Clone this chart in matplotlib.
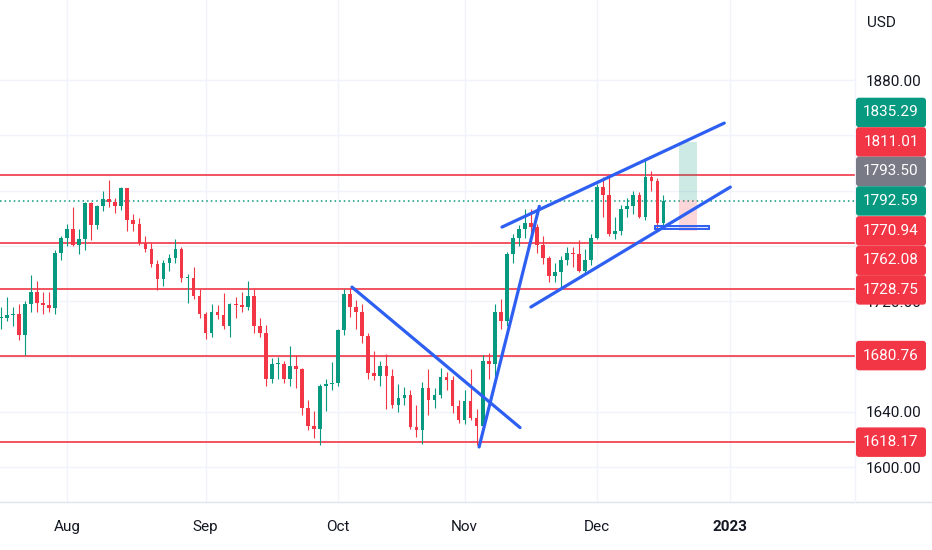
import numpy as np
import pandas as pd
import matplotlib
matplotlib.use("Agg")
import matplotlib.pyplot as plt
from matplotlib.patches import Rectangle, FancyBboxPatch
from matplotlib.transforms import IdentityTransform

plt.rcParams['font.family'] = ['Roboto', 'DejaVu Sans']

# daily bars, XAUUSD, 15 Jul 2022 .. 16 Dec 2022
dates = pd.bdate_range("2022-07-15", "2022-12-16")
opens = [1708, 1708, 1710, 1711, 1696, 1718, 1727, 1719, 1717, 1715,
         1755, 1766, 1772, 1761, 1765, 1791, 1775, 1789, 1794, 1792,
         1789, 1802, 1779, 1776, 1762, 1758, 1747, 1736, 1748, 1751,
         1758, 1737, 1737, 1724, 1711, 1697, 1712, 1710, 1702, 1718,
         1717, 1716, 1724, 1702, 1697, 1664, 1675, 1675, 1664, 1673,
         1671, 1643, 1630, 1628, 1659, 1660, 1661, 1699, 1725, 1716,
         1712, 1695, 1668, 1666, 1673, 1666, 1645, 1650, 1652, 1629,
         1627, 1657, 1649, 1652, 1665, 1663, 1644, 1634, 1648, 1636,
         1630, 1677, 1675, 1712, 1706, 1754, 1766, 1772, 1777, 1774,
         1761, 1751, 1738, 1741, 1750, 1755, 1754, 1742, 1750, 1766,
         1803, 1797, 1769, 1771, 1787, 1789, 1797, 1781, 1810, 1807,
         1777]
highs = [1716, 1723, 1716, 1718, 1720, 1739, 1735, 1727, 1727, 1757,
         1767, 1776, 1788, 1772, 1792, 1792, 1790, 1800, 1808, 1795,
         1803, 1802, 1783, 1780, 1767, 1762, 1750, 1750, 1754, 1765,
         1759, 1740, 1745, 1729, 1712, 1718, 1717, 1726, 1719, 1723,
         1727, 1735, 1729, 1708, 1703, 1679, 1680, 1677, 1688, 1681,
         1672, 1649, 1641, 1660, 1664, 1676, 1700, 1729, 1730, 1721,
         1718, 1697, 1684, 1677, 1682, 1671, 1660, 1658, 1656, 1645,
         1662, 1671, 1657, 1672, 1669, 1666, 1649, 1656, 1671, 1642,
         1681, 1683, 1718, 1722, 1756, 1769, 1775, 1787, 1787, 1776,
         1767, 1753, 1748, 1753, 1759, 1759, 1764, 1758, 1769, 1805,
         1810, 1810, 1781, 1790, 1795, 1800, 1799, 1824, 1814, 1809,
         1797]
lows = [1700, 1706, 1702, 1692, 1681, 1712, 1712, 1711, 1712, 1711,
        1750, 1760, 1760, 1754, 1757, 1764, 1772, 1785, 1788, 1784,
        1786, 1771, 1771, 1761, 1756, 1745, 1728, 1731, 1742, 1748,
        1734, 1719, 1722, 1708, 1693, 1694, 1707, 1700, 1694, 1708,
        1712, 1714, 1697, 1694, 1659, 1661, 1664, 1661, 1659, 1657,
        1638, 1627, 1621, 1616, 1641, 1656, 1659, 1696, 1709, 1700,
        1690, 1664, 1663, 1659, 1642, 1643, 1640, 1645, 1628, 1622,
        1617, 1638, 1643, 1650, 1656, 1639, 1632, 1631, 1634, 1616,
        1628, 1664, 1666, 1700, 1702, 1748, 1760, 1766, 1768, 1755,
        1747, 1734, 1734, 1730, 1746, 1745, 1741, 1740, 1746, 1765,
        1781, 1767, 1765, 1768, 1781, 1783, 1780, 1779, 1800, 1773,
        1774]
closes = [1708, 1710, 1711, 1696, 1718, 1727, 1719, 1717, 1715, 1755,
          1766, 1772, 1761, 1765, 1791, 1775, 1789, 1794, 1792, 1789,
          1802, 1779, 1776, 1762, 1758, 1747, 1736, 1748, 1751, 1758,
          1737, 1737, 1724, 1711, 1697, 1712, 1710, 1702, 1718, 1717,
          1716, 1724, 1702, 1697, 1664, 1675, 1675, 1664, 1673, 1671,
          1643, 1630, 1628, 1659, 1660, 1661, 1699, 1725, 1716, 1712,
          1695, 1668, 1666, 1673, 1666, 1645, 1650, 1652, 1629, 1627,
          1657, 1649, 1652, 1665, 1663, 1644, 1634, 1648, 1636, 1630,
          1677, 1675, 1712, 1706, 1754, 1766, 1772, 1777, 1774, 1761,
          1751, 1738, 1741, 1750, 1755, 1754, 1742, 1750, 1766, 1803,
          1797, 1769, 1771, 1787, 1789, 1797, 1781, 1810, 1807, 1777,
          1792.59]

# horizontal levels (red), position tool, current price
levels = [1811.01, 1762.08, 1728.75, 1680.76, 1618.17]
target, entry, stop = 1835.29, 1793.50, 1770.94
last_price = 1792.59

# trend lines: (bar index, price) pairs
trendlines = [[(58.3, 1730.3), (86.2, 1628.7)],
              [(79.4, 1614.7), (89.4, 1788.7)],
              [(83.2, 1773.7), (120.1, 1848.9)],
              [(88.0, 1715.9), (121.1, 1802.6)]]
box_bars = (108.6, 117.6)
box_prices = (1772.0, 1774.5)
pos_bars = (112.6, 115.6)

UP, DOWN, GRAY = '#089981', '#f23645', '#787b86'
BLUE = '#2d5ff2'
GRID = '#f0f3fa'
TXT = '#131722'

W, H = 932, 550
fig = plt.figure(figsize=(W / 100, H / 100), dpi=100, facecolor='white')
ax = fig.add_axes([0, 1 - 502 / H, 855 / W, 502 / H])
ax.set_facecolor('white')

o = np.array(opens, float); h = np.array(highs, float)
l = np.array(lows, float); c = np.array(closes, float)
idx = np.arange(len(dates))
cols = np.where(c >= o, UP, DOWN)

ax.vlines(idx, l, h, colors=cols, lw=0.8, zorder=3)
body = np.maximum(np.abs(c - o), 0.6)
ax.bar(idx, body, bottom=np.minimum(o, c), width=0.6, color=cols, lw=0, zorder=3)

ax.set_xlim(-0.125, 141.8)
ax.set_ylim(1574.9, 1937.9)

for lv in levels:
    ax.axhline(lv, color=DOWN, lw=1.2, zorder=2)
ax.axhline(last_price, color=UP, lw=1.1, ls=(0, (1, 2)), zorder=2)

for (x1, y1), (x2, y2) in trendlines:
    ax.plot([x1, x2], [y1, y2], color=BLUE, lw=2.3, solid_capstyle='round', zorder=5)

ax.add_patch(Rectangle((pos_bars[0], entry), pos_bars[1] - pos_bars[0], target - entry,
                       facecolor=UP, alpha=0.2, lw=0, zorder=4))
ax.add_patch(Rectangle((pos_bars[0], stop), pos_bars[1] - pos_bars[0], entry - stop,
                       facecolor=DOWN, alpha=0.2, lw=0, zorder=4))
ax.add_patch(Rectangle((box_bars[0], box_prices[0]), box_bars[1] - box_bars[0],
                       box_prices[1] - box_prices[0], facecolor=BLUE, alpha=0.15,
                       edgecolor='none', zorder=4))
ax.add_patch(Rectangle((box_bars[0], box_prices[0]), box_bars[1] - box_bars[0],
                       box_prices[1] - box_prices[0], fill=False, edgecolor=BLUE,
                       lw=1.4, zorder=4))

# month ticks
future = pd.bdate_range("2022-07-15", "2023-02-28")
month_idx, month_lab = [], []
for k, d in enumerate(future):
    if k == 0 or d.month != future[k - 1].month:
        if d >= pd.Timestamp("2022-08-01") and d <= pd.Timestamp("2023-01-31"):
            month_idx.append(k)
            month_lab.append(str(d.year) if d.month == 1 else d.strftime("%b"))
ax.set_xticks(month_idx)
ax.set_xticklabels(month_lab, fontsize=11, color=TXT)
ax.get_xticklabels()[-1].set_fontweight('bold')
ax.tick_params(axis='x', length=0, pad=13)

# price ticks; the ones sitting under a price label are hidden like on the platform
yticks = np.arange(1600, 1900, 40)
hidden = [1680, 1760, 1800, 1840]
ax.set_yticks(yticks)
ax.set_yticklabels(["" if v in hidden else f"{v:.2f}" for v in yticks], fontsize=11, color=TXT)
ax.yaxis.tick_right()
ax.tick_params(axis='y', length=0, pad=8)
ax.grid(True, color=GRID, lw=1, zorder=0)
ax.set_axisbelow(True)
for s in ax.spines.values():
    s.set_visible(False)
fig.add_artist(plt.Line2D([0, 1], [1 - 502 / H] * 2, color='#e0e3eb', lw=1))
fig.add_artist(plt.Line2D([855 / W] * 2, [1 - 502 / H, 1], color='#f0f3fa', lw=1))

fig.text(867 / W, 1 - 23 / H, "USD", fontsize=11, color=TXT, va='center', ha='left')

# price scale labels, stacked around the last price
labels = [(target, UP), (levels[0], DOWN), (entry, GRAY), (last_price, UP), (stop, DOWN),
          (levels[1], DOWN), (levels[2], DOWN), (levels[3], DOWN), (levels[4], DOWN)]
fig.canvas.draw()
ypix = [ax.transData.transform((0, p))[1] for p, _ in labels]
gap = 29.5
a = 3
for k in range(a - 1, -1, -1):
    ypix[k] = max(ypix[k], ypix[k + 1] + gap)
for k in range(a + 1, len(ypix)):
    ypix[k] = min(ypix[k], ypix[k - 1] - gap)
for (p, col), yp in zip(labels, ypix):
    fig.add_artist(FancyBboxPatch((856, yp - gap / 2), 70, gap,
                                  boxstyle="round,pad=0,rounding_size=3",
                                  facecolor=col, edgecolor='none',
                                  transform=IdentityTransform(), zorder=10))
    fig.text(891 / W, yp / H, f"{p:.2f}", color='white', fontsize=11,
             ha='center', va='center', zorder=11)

fig.savefig("out.png", dpi=100, facecolor='white')
